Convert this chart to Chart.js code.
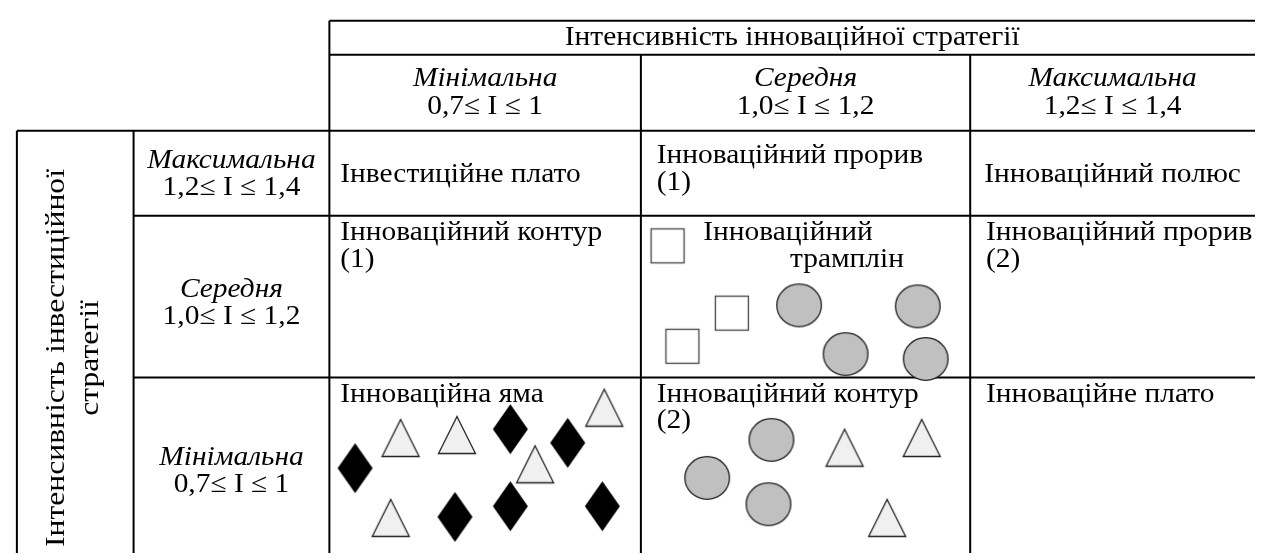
<!DOCTYPE html>
<html>
<head>
<meta charset="utf-8">
<script src="https://cdn.jsdelivr.net/npm/chart.js@4.4.0/dist/chart.umd.min.js"></script>
<style>
  html, body { margin: 0; padding: 0; background: #fff; }
  canvas { display: block; }
</style>
</head>
<body>
<canvas id="matrix" width="1262" height="560"></canvas>
<script>
// grid of the matrix, in picture units
const colEdges = [10, 128, 326, 641, 974, 1262];
const rowEdges = [14, 49, 127, 214, 380, 560];

const title = 'Інтенсивність інноваційної стратегії';
const sideTitle = ['Інтенсивність інвестиційної', 'стратегії'];
const colLevels = ['Мінімальна', 'Середня', 'Максимальна'];
const colRanges = ['0,7≤ I ≤ 1', '1,0≤ I ≤ 1,2', '1,2≤ I ≤ 1,4'];
const rowLevels = ['Максимальна', 'Середня', 'Мінімальна'];
const rowRanges = ['1,2≤ I ≤ 1,4', '1,0≤ I ≤ 1,2', '0,7≤ I ≤ 1'];
const cellNames = [
  ['Інвестиційне плато', 'Інноваційний прорив\n(1)', 'Інноваційний полюс'],
  ['Інноваційний контур\n(1)', 'Інноваційний\nтрамплін', 'Інноваційний прорив\n(2)'],
  ['Інноваційна яма', 'Інноваційний контур\n(2)', 'Інноваційне плато']
];

// objects placed in the matrix
const squarePts = [{x: 668, y: 245}, {x: 733, y: 314}, {x: 683, y: 348}];
const circlePts = [
  {x: 801, y: 306}, {x: 921, y: 307}, {x: 848, y: 356}, {x: 929, y: 361},
  {x: 773, y: 444}, {x: 708, y: 483}, {x: 770, y: 510}
];
const trianglePts = [
  {x: 398, y: 442}, {x: 455, y: 439}, {x: 604, y: 411}, {x: 534, y: 469}, {x: 388, y: 524},
  {x: 847, y: 452}, {x: 925, y: 442}, {x: 890, y: 524}
];
const diamondPts = [
  {x: 352, y: 473}, {x: 509, y: 433}, {x: 567, y: 447},
  {x: 453, y: 523}, {x: 509, y: 512}, {x: 602, y: 512}
];

const FONT = '"Liberation Serif", "Times New Roman", serif';
const FS = 27;
const SX = 1.09; // the text in the picture is a bit wide

function marker(w, h, draw) {
  const c = document.createElement('canvas');
  c.width = w + 4;
  c.height = h + 4;
  const g = c.getContext('2d');
  g.translate(2, 2);
  g.lineWidth = 1.3;
  g.strokeStyle = '#222';
  draw(g, w, h);
  return c;
}

const squareImg = marker(34, 35, function (g, w, h) {
  g.fillStyle = '#fff';
  g.fillRect(0.5, 0.5, w - 1, h - 1);
  g.strokeStyle = '#444';
  g.strokeRect(0.5, 0.5, w - 1, h - 1);
});
const circleImg = marker(46, 44, function (g, w, h) {
  g.beginPath();
  g.ellipse(w / 2, h / 2, w / 2 - 0.7, h / 2 - 0.7, 0, 0, Math.PI * 2);
  g.fillStyle = '#c0c0c0';
  g.fill();
  g.stroke();
});
const triangleImg = marker(38, 38, function (g, w, h) {
  g.beginPath();
  g.moveTo(w / 2, 0.5);
  g.lineTo(w - 0.5, h - 0.5);
  g.lineTo(0.5, h - 0.5);
  g.closePath();
  g.fillStyle = '#f0f0f0';
  g.fill();
  g.stroke();
});
const diamondImg = marker(35, 50, function (g, w, h) {
  g.beginPath();
  g.moveTo(w / 2, 0);
  g.lineTo(w, h / 2);
  g.lineTo(w / 2, h);
  g.lineTo(0, h / 2);
  g.closePath();
  g.fillStyle = '#000';
  g.fill();
});

const tablePlugin = {
  id: 'tablePlugin',
  beforeDatasetsDraw(chart) {
    const ctx = chart.ctx;
    const sx = chart.scales.x, sy = chart.scales.y;
    const X = v => sx.getPixelForValue(v);
    const Y = v => sy.getPixelForValue(v);
    const c = colEdges, r = rowEdges;

    ctx.save();
    ctx.strokeStyle = '#000';
    ctx.lineWidth = 2;
    function line(x1, y1, x2, y2) {
      ctx.beginPath();
      ctx.moveTo(X(x1), Y(y1));
      ctx.lineTo(X(x2), Y(y2));
      ctx.stroke();
    }
    line(c[2], r[0], c[5], r[0]);
    line(c[2], r[1], c[5], r[1]);
    line(c[0], r[2], c[5], r[2]);
    line(c[1], r[3], c[5], r[3]);
    line(c[1], r[4], c[5], r[4]);
    line(c[0], r[2], c[0], r[5]);
    line(c[1], r[2], c[1], r[5]);
    line(c[2], r[0], c[2], r[5]);
    line(c[3], r[1], c[3], r[5]);
    line(c[4], r[1], c[4], r[5]);

    ctx.fillStyle = '#000';
    ctx.textBaseline = 'middle';
    const up = 27;
    function text(s, x, y, align, italic) {
      ctx.save();
      ctx.font = (italic ? 'italic ' : '') + FS + 'px ' + FONT;
      ctx.textAlign = align;
      ctx.translate(X(x), Y(y));
      ctx.scale(SX, 1);
      ctx.fillText(s, 0, 0);
      ctx.restore();
    }

    text(title, (c[2] + c[5]) / 2, 32, 'center');
    for (let i = 0; i < 3; i++) {
      const cx = (c[i + 2] + c[i + 3]) / 2;
      text(colLevels[i], cx, 74, 'center', true);
      text(colRanges[i], cx, 102, 'center');
    }
    const rowMid = [158, 290, 462];
    for (let j = 0; j < 3; j++) {
      const cx = (c[1] + c[2]) / 2;
      text(rowLevels[j], cx, rowMid[j], 'center', true);
      text(rowRanges[j], cx, rowMid[j] + 28, 'center');
    }

    // cell names
    const pad = [11, 16, 16];
    for (let j = 0; j < 3; j++) {
      for (let i = 0; i < 3; i++) {
        const lines = cellNames[j][i].split('\n');
        const left = c[i + 2] + pad[i];
        let y0 = r[j + 2] + 18;
        if (j === 0) {
          y0 = lines.length > 1 ? r[2] + 26 : (r[2] + r[3]) / 2 + 2;
        }
        if (j === 1 && i === 1) {
          text(lines[0], c[3] + 63, y0, 'left');
          text(lines[1], c[4] - 67, y0 + up, 'right');
          continue;
        }
        if (j === 0 && i === 2) {
          text(lines[0], (c[4] + c[5]) / 2, y0, 'center');
          continue;
        }
        lines.forEach((s, k) => text(s, left, y0 + k * up, 'left'));
      }
    }

    // rotated side title
    const midY = Y(360);
    ctx.font = FS + 'px ' + FONT;
    ctx.textAlign = 'center';
    [50, 85].forEach((x, k) => {
      ctx.save();
      ctx.translate(X(x), midY);
      ctx.rotate(-Math.PI / 2);
      ctx.scale(1.17, 1);
      ctx.fillText(sideTitle[k], 0, 0);
      ctx.restore();
    });
    ctx.restore();
  }
};

function ds(label, pts, img) {
  return {
    label: label,
    data: pts,
    pointStyle: img,
    pointRadius: 6,
    pointHoverRadius: 6,
    showLine: false
  };
}

new Chart(document.getElementById('matrix').getContext('2d'), {
  type: 'scatter',
  data: {
    datasets: [
      ds('Квадрати', squarePts, squareImg),
      ds('Кола', circlePts, circleImg),
      ds('Трикутники', trianglePts, triangleImg),
      ds('Ромби', diamondPts, diamondImg)
    ]
  },
  options: {
    responsive: false,
    animation: false,
    devicePixelRatio: 1,
    events: [],
    layout: { padding: 0 },
    plugins: { legend: { display: false }, tooltip: { enabled: false } },
    scales: {
      x: { type: 'linear', min: 0, max: 1262, display: false },
      y: { type: 'linear', min: 0, max: 560, reverse: true, display: false }
    }
  },
  plugins: [tablePlugin]
});
</script>
</body>
</html>
